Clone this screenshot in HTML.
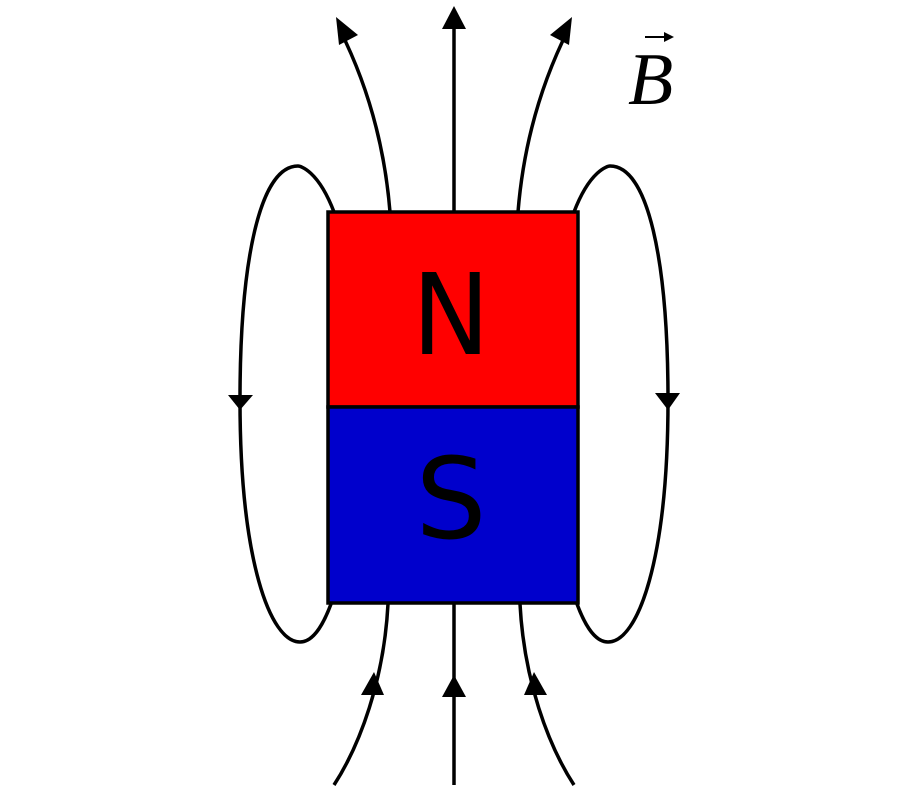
<!DOCTYPE html>
<html><head><meta charset="utf-8"><style>html,body{margin:0;padding:0;background:#fff}svg{display:block}</style></head>
<body>
<svg width="900" height="800" viewBox="0 0 900 800" xmlns="http://www.w3.org/2000/svg">
<g fill="none" stroke="#000" stroke-width="3.5">
<line x1="454" y1="212" x2="454" y2="24"/>
<path d="M390 212 C385 150 370 90 340 30"/>
<path d="M518 212 C523 150 538 90 568 30"/>
<line x1="454" y1="604" x2="454" y2="785"/>
<path d="M388 604 C384 680 360 745 334 785"/>
<path d="M520 604 C524 680 548 745 574 785"/>
<path d="M334 212 C318 170 300 166 298 166 C260 166 240 260 240 400 C240 560 270 642 300 642 C315 642 325 620 331 604"/>
<path d="M574 212 C590 170 608 166 610 166 C648 166 668 260 668 400 C668 560 638 642 608 642 C593 642 583 620 577 604"/>
</g>
<rect x="328" y="212" width="250" height="195" fill="#ff0000" stroke="#000" stroke-width="3.5"/>
<rect x="328" y="407" width="250" height="196" fill="#0000cc" stroke="#000" stroke-width="3.5"/>
<text x="451" y="354" font-family="'DejaVu Sans','Liberation Sans',sans-serif" font-size="112" text-anchor="middle" fill="#000" transform="translate(451 0) scale(0.93 1) translate(-451 0)">N</text>
<text x="451" y="538" font-family="'DejaVu Sans','Liberation Sans',sans-serif" font-size="112" text-anchor="middle" fill="#000">S</text>
<g fill="#000">
<polygon points="454,6 442,29 466,29"/>
<polygon points="336,17 339,45 358,35"/>
<polygon points="572,17 550,35 569,45"/>
<polygon points="454,675 442,697 466,697"/>
<polygon points="374,672 361,695 384,695"/>
<polygon points="534,672 524,695 547,695"/>
<polygon points="240,410 228,395 253,395"/>
<polygon points="668,410 655,393 680,393"/>
</g>
<text x="628" y="104" font-family="'Liberation Serif',serif" font-style="italic" font-size="74" fill="#000">B</text>
<line x1="645" y1="37" x2="670" y2="37" stroke="#000" stroke-width="2"/>
<polygon points="674,37 664,32 664,42" fill="#000"/>
</svg>
</body></html>
